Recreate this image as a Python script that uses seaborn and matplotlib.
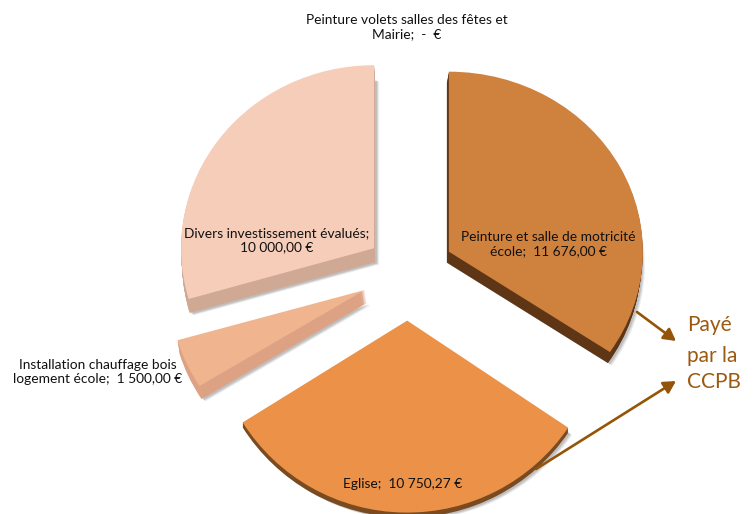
import matplotlib
matplotlib.use("Agg")
import matplotlib.pyplot as plt
import seaborn as sns
from matplotlib.transforms import Affine2D

categories = ["Peinture et salle de motricité école", "Eglise", "Installation chauffage bois logement école",
              "Divers investissement évalués", "Peinture volets salles des fêtes et Mairie"]
values = [11676.00, 10750.27, 1500.00, 10000.00, 0.0]
value_labels = ["11 676,00 €", "10 750,27 €", "1 500,00 €", "10 000,00 €", "-  €"]
note_lines = ["Payé", "par la", "CCPB"]

explode = [0.24, 0.27, 0.245, 0.22, 0.0]
top_colors = ["#cf813e", "#eb9148", "#f0b48f", "#f6cdb9", "#ffffff"]
side_colors = ["#5e3515", "#7a4a20", "#dca283", "#cfa994", "#ffffff"]
depth_px = [(-2, 11), (0, 5), (2, 13), (1, 14), (0, 0)]
radius_px = [(194, 180), (194, 192), (195, 181), (193, 183), (193, 180)]

W, H = 755, 514
RX, RY = 193.0, 180.0
CX, CY = 408.0, 272.0

sns.set_theme(style="white")
plt.rcParams["font.family"] = ["Lato", "DejaVu Sans"]

fig = plt.figure(figsize=(W / 100, H / 100), dpi=100, facecolor="white")
ax = fig.add_axes([0, 0, 1, 1])


def single(k, color, dx=0.0, dy=0.0, alpha=None, z=1):
    wedges, _ = ax.pie(values, explode=explode, startangle=90, counterclock=False, radius=1.0,
                       center=(dx / RX, -dy / RY), colors=[color] * len(values), frame=False)
    sx, sy = radius_px[k][0] / RX, radius_px[k][1] / RY
    for i, w in enumerate(wedges):
        w.set_visible(i == k and values[k] > 0)
        w.set_linewidth(0)
        w.set_zorder(z)
        if alpha is not None:
            w.set_alpha(alpha)
        cx, cy = w.center
        w.set_transform(Affine2D().translate(-cx, -cy).scale(sx, sy).translate(cx, cy) + ax.transData)


for k in range(4):
    ddx, ddy = depth_px[k]
    for s, a in ((4.0, 0.10), (3.0, 0.14), (2.0, 0.18)):
        single(k, "#555555", ddx + s, ddy + s * 0.6, a, z=1)
    steps = max(ddy, 1)
    for n in range(steps, 0, -1):
        single(k, side_colors[k], ddx * n / steps, ddy * n / steps, z=2 + k)
    single(k, top_colors[k], z=2 + k)

ax.set_aspect("auto")
ax.set_xlim(-CX / RX, (W - CX) / RX)
ax.set_ylim(-(H - CY) / RY, CY / RY)
ax.axis("off")


def fx(x):
    return x / W


def fy(y):
    return 1 - y / H


def label(x, y, s):
    ax.text(fx(x), fy(y), s, transform=ax.transAxes, ha="center", va="center", fontsize=9.9,
            color="#111111", linespacing=1.25, zorder=20)


label(407, 27, f"{categories[4].replace('fêtes et Mairie', 'fêtes et')}\nMairie;  {value_labels[4]}")
label(277, 240, f"{categories[3]};\n{value_labels[3]}")
label(548, 244, "Peinture et salle de motricité\nécole;  " + value_labels[0])
label(98, 372, "Installation chauffage bois\nlogement école;  " + value_labels[2])
label(403, 484, f"{categories[1]};  {value_labels[1]}")

note_color = "#9c5a10"
for line, y in zip(note_lines, [325, 356, 382]):
    ax.text(fx(687), fy(y), line, transform=ax.transAxes, ha="left", va="center", fontsize=15,
            color=note_color, zorder=20)

for start, end in (((637, 312), (676, 341)), ((536, 469), (676, 381))):
    ax.annotate("", xy=(fx(end[0]), fy(end[1])), xytext=(fx(start[0]), fy(start[1])),
                xycoords="axes fraction", textcoords="axes fraction", zorder=21,
                arrowprops=dict(arrowstyle="-|>,head_length=0.6,head_width=0.33", color="#945508", lw=1.9,
                                shrinkA=0, shrinkB=0))

fig.savefig("out.png", dpi=100, facecolor="white")
